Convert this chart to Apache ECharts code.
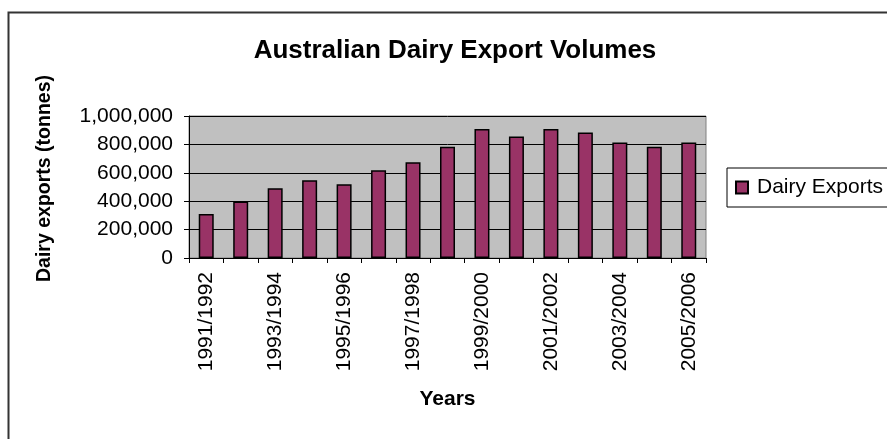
<!DOCTYPE html>
<html>
<head>
<meta charset="utf-8">
<script src="https://cdn.jsdelivr.net/npm/echarts@6/dist/echarts.min.js"></script>
<style>html,body{margin:0;padding:0;background:#fff}#c{width:887px;height:439px}</style>
</head>
<body>
<div id="c"></div>
<script>
const categories = ['1991/1992','1992/1993','1993/1994','1994/1995','1995/1996','1996/1997','1997/1998','1998/1999','1999/2000','2000/2001','2001/2002','2002/2003','2003/2004','2004/2005','2005/2006'];
const dairyExports = [310000, 398000, 491000, 548000, 520000, 618000, 674000, 783000, 909000, 856000, 909000, 884000, 814000, 783000, 814000];
const yTicks = { min: 0, max: 1000000, interval: 200000 };
const yAxisTitle = 'Dairy exports (tonnes)';

const chart = echarts.init(document.getElementById('c'), null, { renderer: 'canvas' });
const font = 'Liberation Sans, Arial, sans-serif';
chart.setOption({
  animation: false,
  backgroundColor: '#fff',
  graphic: [{
    type: 'rect', shape: { x: 8.5, y: 12.5, width: 900, height: 460 },
    style: { fill: 'none', stroke: '#333', lineWidth: 2 }, silent: true, z: -1
  }, {
    type: 'text', x: 45, y: 178.5, rotation: Math.PI / 2 * 1,
    style: {
      text: yAxisTitle, fontFamily: font, fontWeight: 'bold', fontSize: 19.5,
      fill: '#000', align: 'center', verticalAlign: 'middle'
    }, silent: true
  }],
  title: {
    text: 'Australian Dairy Export Volumes',
    left: 450, top: 33, textAlign: 'center',
    textStyle: { fontFamily: font, fontWeight: 'bold', fontSize: 26, color: '#000' }
  },
  legend: {
    data: ['Dairy Exports'],
    left: 727, top: 168, orient: 'vertical',
    backgroundColor: '#fff', borderColor: '#000', borderWidth: 1,
    padding: [9, 14, 9, 8],
    itemWidth: 12, itemHeight: 12, itemGap: 0,
    icon: 'rect',
    textStyle: { fontFamily: font, fontSize: 21, color: '#000', padding: [0, 0, 0, 4] }
  },
  grid: {
    left: 189, right: 181, top: 116, bottom: 181,
    show: true, backgroundColor: '#c0c0c0', borderColor: '#808080', borderWidth: 1
  },
  xAxis: {
    type: 'category', data: categories,
    name: 'Years', nameLocation: 'middle', nameGap: 131,
    nameTextStyle: { fontFamily: font, fontWeight: 'bold', fontSize: 21, color: '#000' },
    axisLine: { lineStyle: { color: '#000', width: 1 } },
    axisTick: { show: true, interval: 0, length: 5, lineStyle: { color: '#000' } },
    axisLabel: { interval: 1, rotate: 90, margin: 14, fontFamily: font, fontSize: 21, color: '#000' }
  },
  yAxis: {
    type: 'value', min: yTicks.min, max: yTicks.max, interval: yTicks.interval,
    axisLine: { show: true, lineStyle: { color: '#000', width: 1 } },
    axisTick: { show: true, length: 5, lineStyle: { color: '#000' } },
    axisLabel: {
      margin: 16, fontFamily: font, fontSize: 21, color: '#000',
      formatter: v => v.toLocaleString('en-US')
    },
    splitLine: { show: true, lineStyle: { color: '#000', width: 1 } }
  },
  series: [{
    name: 'Dairy Exports', type: 'bar', data: dairyExports,
    barWidth: 15,
    itemStyle: { color: '#993366', borderColor: '#000', borderWidth: 1.5 }
  }]
});
</script>
</body>
</html>
